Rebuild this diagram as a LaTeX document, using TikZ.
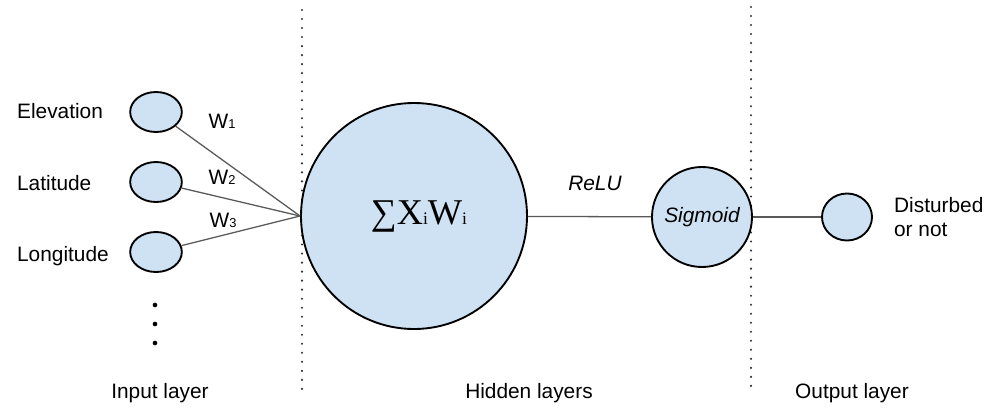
\documentclass[tikz,border=0pt]{standalone}
\usepackage{fontspec}
\setmainfont{Liberation Sans}
\newfontfamily\sumfont{Liberation Serif}
\usepackage{tikz}
\usetikzlibrary{positioning}
\usetikzlibrary{shapes}
\definecolor{cellblue}{RGB}{207,226,243}
\tikzset{main node/.style={ellipse,fill=cellblue,draw,line width=1.6pt,inner sep=0pt,minimum width=1.55cm,minimum height=1.2cm},
  sum node/.style={circle,fill=cellblue,draw,line width=1.6pt,inner sep=0pt},
  sep line/.style={line width=2pt,line cap=round,dash pattern=on 0pt off 7.7pt,black!80},
  link/.style={line width=1.1pt,black!65},
  layer text/.style={anchor=center},
  input text/.style={anchor=base west},}

\begin{document}
\begin{tikzpicture}[x=0.03cm,y=-0.03cm,font=\fontsize{17.8}{20}\selectfont]
    \useasboundingbox (0,0) rectangle (1003,417);

    % layer separators
    \coordinate (s1top) at (302,10);
    \coordinate (s1bot) at (302,393);
    \coordinate (s2top) at (751,7);
    \coordinate (s2bot) at (751,391);
    \draw[sep line] (s1top) -- (s1bot);
    \draw[sep line] (s2top) -- (s2bot);

    % input layer
    \node[main node] (elev) at (156,112) {};
    \node[main node] (lat) at (156,182) {};
    \node[main node] (lon) at (156,252) {};
    \node[input text] (elevtxt) at (13,118) {Elevation};
    \node[input text] (lattxt) at (13,190) {Latitude};
    \node[input text] (lontxt) at (13,261) {Longitude};
    \foreach \y in {305,324,343}
        \fill (155,\y) circle (2pt);

    % hidden layers
    \node[sum node,minimum size=6.78cm] (sum) at (414,216) {};
    \node (sumtxt) at (419,216)
        {\sumfont\fontsize{31}{31}\selectfont ∑X{\fontsize{15}{15}\selectfont i}W{\fontsize{15}{15}\selectfont i}};
    \node[sum node,minimum size=3cm] (sig) at (702,217) {\itshape Sigmoid};
    \node (relu) at (595,183) {\itshape ReLU};

    % output layer
    \node[main node,minimum width=1.5cm,minimum height=1.41cm] (out) at (847,217) {};
    \node[anchor=west,align=left] (outtxt) at (890,217) {Disturbed\\or not};

    % weights
    \node (w1) at (222,121) {W{\fontsize{11}{11}\selectfont 1}};
    \node (w2) at (222,177) {W{\fontsize{11}{11}\selectfont 2}};
    \node (w3) at (223,220) {W{\fontsize{11}{11}\selectfont 3}};

    \path[draw,link]
    (elev) edge (sum.west)
    (lat) edge (sum.west)
    (lon) edge (sum.west)
    (sum) edge (sig)
    (sig) edge (out);

    \node[layer text] (inlayer) at (160,393) {Input layer};
    \node[layer text] (hidlayer) at (529,393) {Hidden layers};
    \node[layer text] (outlayer) at (852,393) {Output layer};
\end{tikzpicture}
\end{document}
